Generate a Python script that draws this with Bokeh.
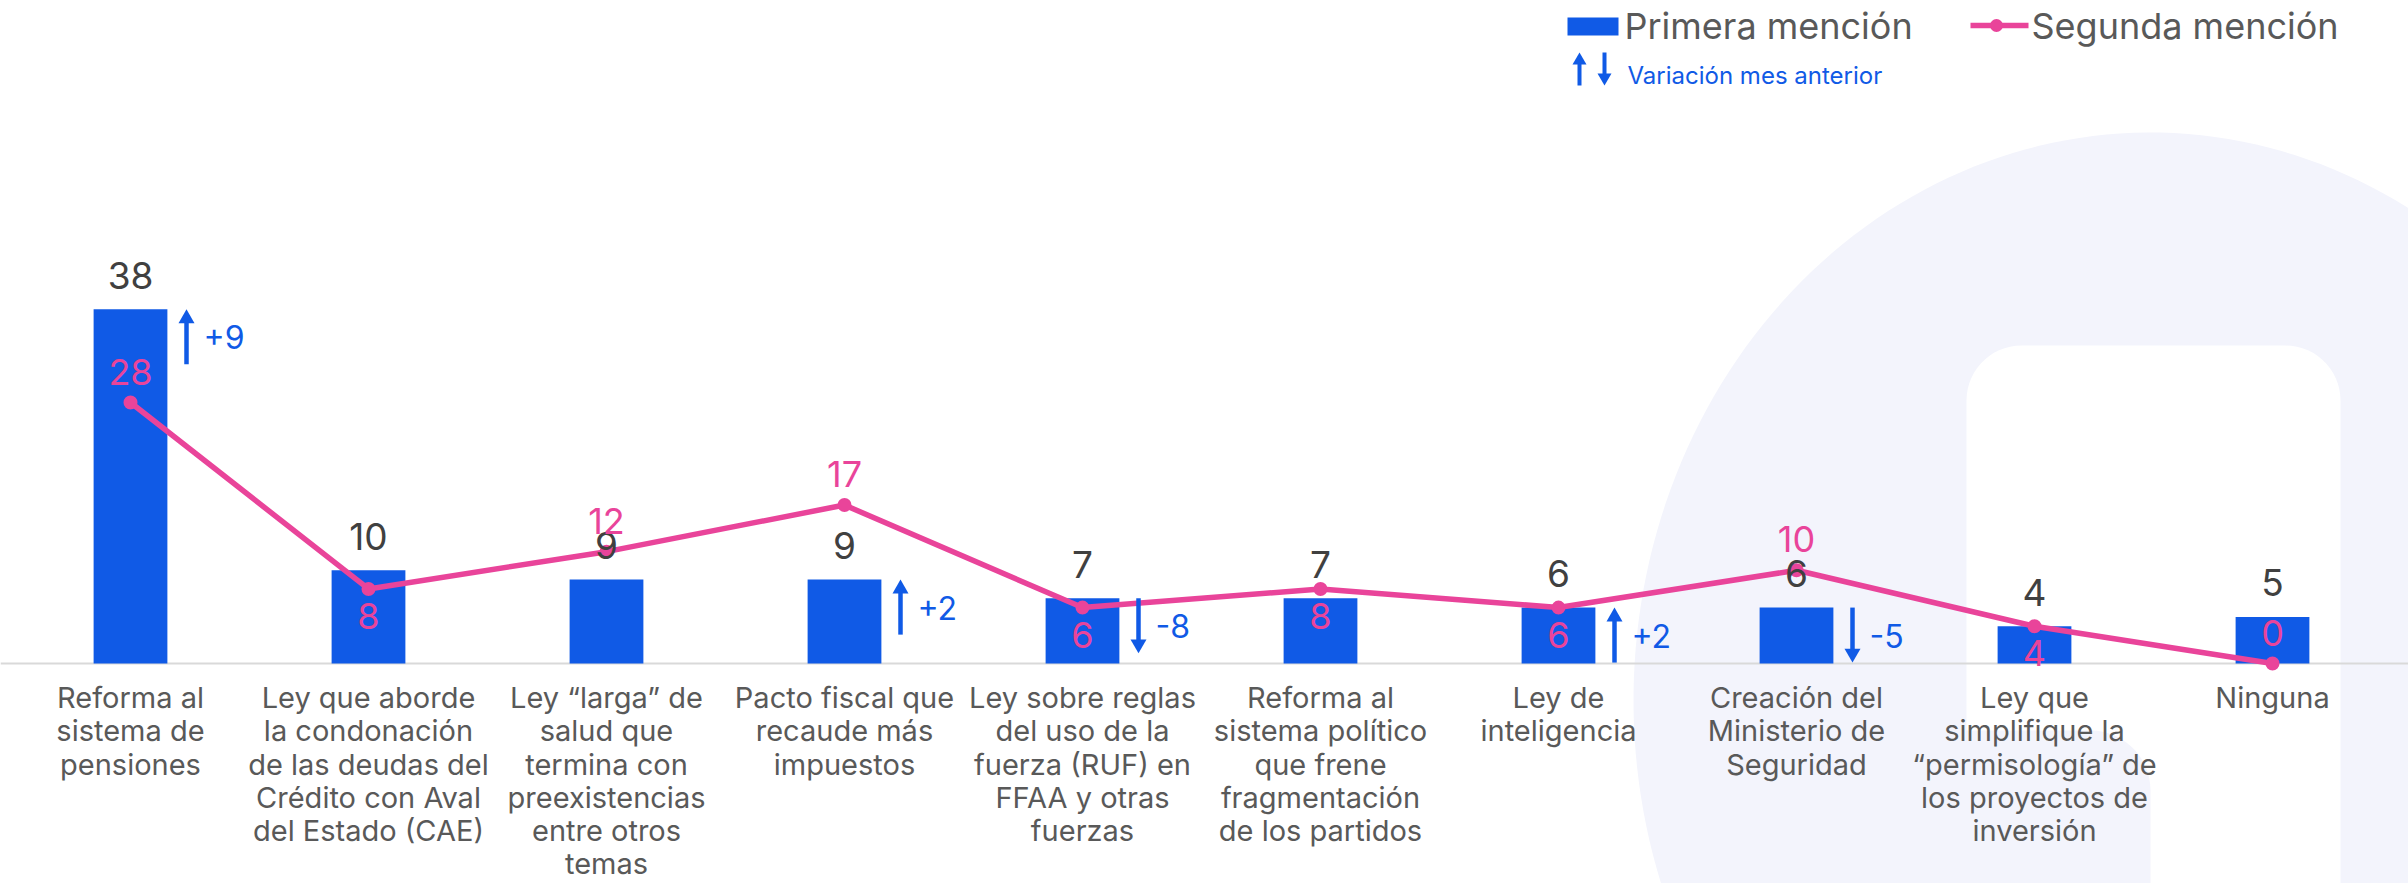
import numpy as np
from bokeh.plotting import figure
from bokeh.models import ColumnDataSource, Range1d, Span
from bokeh.core.properties import value
from bokeh.embed import file_html
from bokeh.resources import INLINE

# ---------------- data ----------------
categories = [
    "Reforma al\nsistema de\npensiones",
    "Ley que aborde\nla condonación\nde las deudas del\nCrédito con Aval\ndel Estado (CAE)",
    "Ley “larga” de\nsalud que\ntermina con\npreexistencias\nentre otros\ntemas",
    "Pacto fiscal que\nrecaude más\nimpuestos",
    "Ley sobre reglas\ndel uso de la\nfuerza (RUF) en\nFFAA y otras\nfuerzas",
    "Reforma al\nsistema político\nque frene\nfragmentación\nde los partidos",
    "Ley de\ninteligencia",
    "Creación del\nMinisterio de\nSeguridad",
    "Ley que\nsimplifique la\n“permisología” de\nlos proyectos de\ninversión",
    "Ninguna",
]
primera = [38, 10, 9, 9, 7, 7, 6, 6, 4, 5]
segunda = [28, 8, 12, 17, 6, 8, 6, 10, 4, 0]
variacion = [9, None, None, 2, -8, None, 2, -5, None, None]

legend_primera = "Primera mención"
legend_segunda = "Segunda mención"
legend_variacion = "Variación mes anterior"

# ---------------- style ----------------
W, H = 2408, 883
BASE_PX = 663          # canvas y of the zero line
PPU = 9.32             # pixels per unit (y)
PPC = 238.0            # pixels per category (x)
LEFT_PX = 11           # canvas x where the first category starts
Y1 = BASE_PX / PPU
Y0 = -(H - BASE_PX) / PPU
X0 = -LEFT_PX / PPC
X1 = (W - LEFT_PX) / PPC

BLUE = "#105AE6"
PINK = "#E9449A"
LAV = "#F3F4FC"
DARK = "#404040"
GREY = "#595959"
FONT = "Inter"

seg_side = ["above", "below", "above", "above", "below", "below", "below", "above", "below", "above"]

def py(v):
    return v / PPU

def pxx(v):
    return v / PPC

p = figure(width=W, height=H,
           x_range=Range1d(X0, X1), y_range=Range1d(Y0, Y1),
           x_axis_location=None, y_axis_location=None,
           output_backend="svg", toolbar_location=None,
           min_border=0, outline_line_color=None,
           background_fill_color="white", border_fill_color="white")
p.grid.visible = False
p.extra_x_ranges = {"px": Range1d(0, W)}
p.extra_y_ranges = {"px": Range1d(H, 0)}

# ---------------- background decoration (pixel space) ----------------
t = np.linspace(0, 2 * np.pi, 240)
ex, ey = 2150 + 517 * np.cos(t), 700 + 568 * np.sin(t)
r1 = p.patch(list(ex), list(ey), x_range_name="px", y_range_name="px",
             fill_color=LAV, line_color=None)
r1.level = "image"

def rrect(x0, y0, x1, y1, r):
    xs, ys = [], []
    for cx, cy, a0 in [(x1 - r, y0 + r, -np.pi / 2), (x1 - r, y1 - r, 0),
                       (x0 + r, y1 - r, np.pi / 2), (x0 + r, y0 + r, np.pi)]:
        a = np.linspace(a0, a0 + np.pi / 2, 16)
        xs += list(cx + r * np.cos(a))
        ys += list(cy + r * np.sin(a))
    return xs, ys

wx, wy = rrect(1966, 345, 2340, 1000, 55)
r2 = p.patch(wx, wy, x_range_name="px", y_range_name="px", fill_color="white", line_color=None)
r2.level = "image"
bx, by = rrect(1888, 730, 2150, 1000, 60)
r3 = p.patch(bx, by, x_range_name="px", y_range_name="px", fill_color=LAV, line_color=None)
r3.level = "image"

p.add_layout(Span(location=0, dimension="width", line_color="#D9D9D9", line_width=2, level="underlay"))

# ---------------- main marks ----------------
xc = [i + 0.5 for i in range(len(categories))]
src = ColumnDataSource(dict(
    x=xc,
    cat=categories,
    primera=primera,
    segunda=segunda,
    prim_txt=[str(v) for v in primera],
    prim_y=[v + py(34) for v in primera],
    seg_txt=[str(v) for v in segunda],
    seg_y=[v + (py(31) if s == "above" else -py(27)) for v, s in zip(segunda, seg_side)],
    lab_y=[-py(16.5)] * len(categories),
))

p.vbar(x="x", top="primera", width=0.31, source=src, fill_color=BLUE, line_color=None)
p.line(x="x", y="segunda", source=src, line_color=PINK, line_width=5.5)
p.scatter(x="x", y="segunda", source=src, size=14, fill_color=PINK, line_color=None)

p.text(x="x", y="prim_y", text="prim_txt", source=src, text_align="center",
       text_baseline="middle", text_font=value(FONT), text_font_size="37px", text_color=DARK)
p.text(x="x", y="seg_y", text="seg_txt", source=src, text_align="center",
       text_baseline="middle", text_font=value(FONT), text_font_size="36px", text_color=PINK)
p.text(x="x", y="lab_y", text="cat", source=src, text_align="center",
       text_baseline="top", text_font=value(FONT), text_font_size="29px",
       text_color=GREY, text_line_height=0.95)

# ---------------- variation arrows ----------------
idx = [i for i, v in enumerate(variacion) if v is not None]
ARROW = 55
HEAD = 16
a_top = [primera[i] for i in idx]
a_up = [variacion[i] > 0 for i in idx]
asrc = ColumnDataSource(dict(
    xa=[xc[i] + pxx(56) for i in idx],
    xt=[xc[i] + pxx(73) for i in idx],
    y0=[t - py(ARROW) if u else t for t, u in zip(a_top, a_up)],
    y1=[t - py(9) if u else t - py(ARROW - 9) for t, u in zip(a_top, a_up)],
    hy=[t - py(9.2) if u else t - py(ARROW - 9.2) for t, u in zip(a_top, a_up)],
    mk=["triangle" if u else "inverted_triangle" for u in a_up],
    txt=[("+%d" % variacion[i]) if variacion[i] > 0 else ("%d" % variacion[i]) for i in idx],
    ty=[t - py(28) for t in a_top],
))
p.segment(x0="xa", x1="xa", y0="y0", y1="y1", source=asrc, line_color=BLUE, line_width=4.5)
p.scatter(x="xa", y="hy", marker="mk", size=HEAD, source=asrc, fill_color=BLUE, line_color=None)
p.text(x="xt", y="ty", text="txt", source=asrc,
       text_align="left", text_baseline="middle", text_font=value(FONT),
       text_font_size="32px", text_color=BLUE)

# ---------------- legend (pixel space) ----------------
p.quad(left=[1567], right=[1618], top=[17], bottom=[35], x_range_name="px", y_range_name="px",
       fill_color=BLUE, line_color=None)
p.text(x=[1624], y=[25], text=[legend_primera], x_range_name="px", y_range_name="px",
       text_align="left", text_baseline="middle", text_font=value(FONT),
       text_font_size="36px", text_color=GREY)
p.line(x=[1970, 2028], y=[25, 25], x_range_name="px", y_range_name="px",
       line_color=PINK, line_width=5.5)
p.scatter(x=[1996], y=[25], x_range_name="px", y_range_name="px", size=13,
          fill_color=PINK, line_color=None)
p.text(x=[2031], y=[25], text=[legend_segunda], x_range_name="px", y_range_name="px",
       text_align="left", text_baseline="middle", text_font=value(FONT),
       text_font_size="36px", text_color=GREY)
p.segment(x0=[1579, 1604], x1=[1579, 1604], y0=[60, 52], y1=[85, 77],
          x_range_name="px", y_range_name="px", line_color=BLUE, line_width=4)
p.scatter(x=[1579, 1604], y=[60, 77], marker=["triangle", "inverted_triangle"], size=14,
          x_range_name="px", y_range_name="px", fill_color=BLUE, line_color=None)
p.text(x=[1627], y=[75], text=[legend_variacion], x_range_name="px", y_range_name="px",
       text_align="left", text_baseline="middle", text_font=value(FONT),
       text_font_size="24px", text_color=BLUE)

open("out.html", "w").write(file_html(p, INLINE))
